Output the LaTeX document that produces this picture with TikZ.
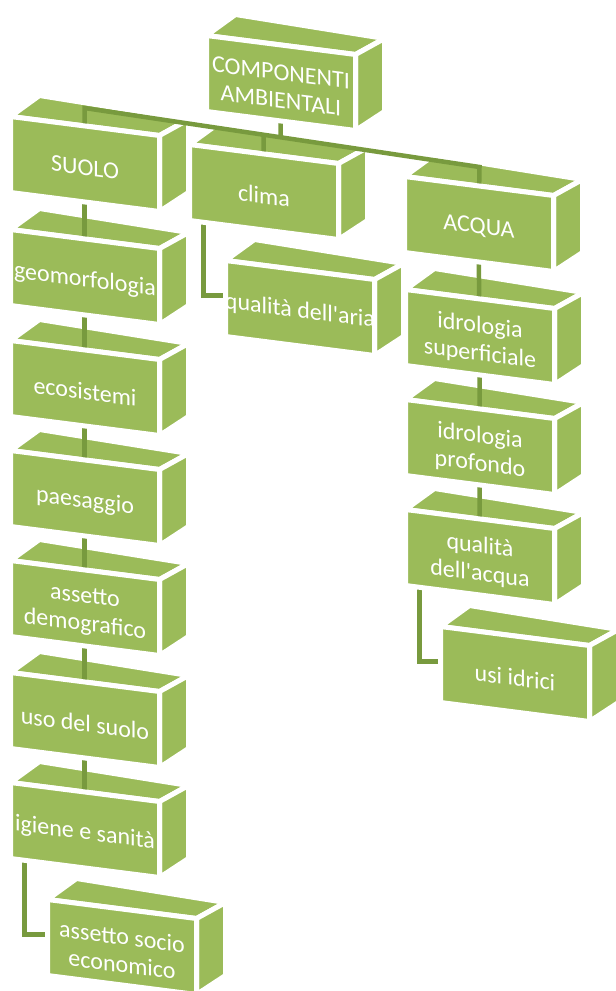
\documentclass[tikz,border=0pt]{standalone}
\usepackage{fontspec}
\setmainfont{Carlito}[Ligatures=TeXOff]
\usetikzlibrary{calc}
\definecolor{boxgreen}{HTML}{9BBB59}
\definecolor{linkgreen}{HTML}{789A3E}
\tikzset{
  face/.style={fill=boxgreen, draw=white, line width=5pt, line join=round},
  conn/.style={draw=linkgreen, line width=4.5pt, line join=miter},
  lbl/.style={text=white, font=\fontsize{24}{28}\selectfont, align=center, yslant=-0.1275, inner sep=0pt}
}
\newcommand\cubeback[3]{\begin{scope}[shift={(#2,#3)}]
  \draw[face] (0,0) -- (149,19) -- (178,3) -- (29,-21) -- cycle;
  \draw[face] (149,19) -- (178,3) -- (178,76) -- (149,95) -- cycle;
  \coordinate (#1-c) at (74,47.5);
  \coordinate (#1-l) at (14,47.5);
  \coordinate (#1-w) at (10,35);
\end{scope}}
\newcommand\cubefront[4]{\begin{scope}[shift={(#2,#3)}]
  \draw[face] (0,0) -- (149,19) -- (149,95) -- (0,76) -- cycle;
  \node[lbl] (#1) at (74.5,51) {#4};
\end{scope}}
\begin{document}
\begin{tikzpicture}[x=1pt,y=-1pt]
\useasboundingbox (0,0) rectangle (616,991);
\clip (0,0) rectangle (616,991);
% back faces
\cubeback{comp}{206.5}{35.5}
\cubeback{suolo}{10.5}{116.5}
\cubeback{clima}{189.5}{144.5}
\cubeback{acqua}{404.5}{176.5}
\cubeback{geo}{10.5}{229.5}
\cubeback{aria}{225.5}{260.5}
\cubeback{eco}{10.5}{340.5}
\cubeback{idsup}{405.5}{289.5}
\cubeback{paes}{10.5}{450.5}
\cubeback{idprof}{405.5}{399.5}
\cubeback{demo}{10.5}{560.5}
\cubeback{qacq}{405.5}{509.5}
\cubeback{uso}{10.5}{672.5}
\cubeback{usi}{440.5}{626.5}
\cubeback{igiene}{10.5}{782.5}
\cubeback{socio}{47.5}{899.5}
% connectors
\coordinate (bus-l) at (84.5,108);
\coordinate (bus-r) at (479.5,167);
\coordinate (bus-comp) at ($(bus-l)!0.4962!(bus-r)$);
\coordinate (bus-clima) at ($(bus-l)!0.4532!(bus-r)$);
\draw[conn] (suolo-c) -- (bus-l) -- (bus-r) -- (acqua-c);
\draw[conn] (comp-c) -- (bus-comp);
\draw[conn] (bus-clima) -- (clima-c);
\draw[conn] (suolo-c) -- (geo-c) -- (eco-c) -- (paes-c) -- (demo-c) -- (uso-c) -- (igiene-c);
\draw[conn] (acqua-c) -- (idsup-c) -- (idprof-c) -- (qacq-c);
\draw[conn] (clima-l) |- (aria-w);
\draw[conn] (igiene-l) |- (socio-w);
\draw[conn] (qacq-l) |- (usi-w);
% front faces
\cubefront{compn}{206.5}{35.5}{COMPONENTI\\AMBIENTALI}
\cubefront{suolon}{10.5}{116.5}{SUOLO}
\cubefront{liman}{189.5}{144.5}{clima}
\cubefront{acquan}{404.5}{176.5}{ACQUA}
\cubefront{geon}{10.5}{229.5}{geomorfologia}
\cubefront{arian}{225.5}{260.5}{qualità dell'aria}
\cubefront{econ}{10.5}{340.5}{ecosistemi}
\cubefront{idsupn}{405.5}{289.5}{idrologia\\superficiale}
\cubefront{paesn}{10.5}{450.5}{paesaggio}
\cubefront{idprofn}{405.5}{399.5}{idrologia\\profondo}
\cubefront{demon}{10.5}{560.5}{assetto\\demografico}
\cubefront{qacqn}{405.5}{509.5}{qualità\\dell'acqua}
\cubefront{uson}{10.5}{672.5}{uso del suolo}
\cubefront{usin}{440.5}{626.5}{usi idrici}
\cubefront{igienen}{10.5}{782.5}{igiene e sanità}
\cubefront{socion}{47.5}{899.5}{assetto socio\\economico}
\end{tikzpicture}
\end{document}
